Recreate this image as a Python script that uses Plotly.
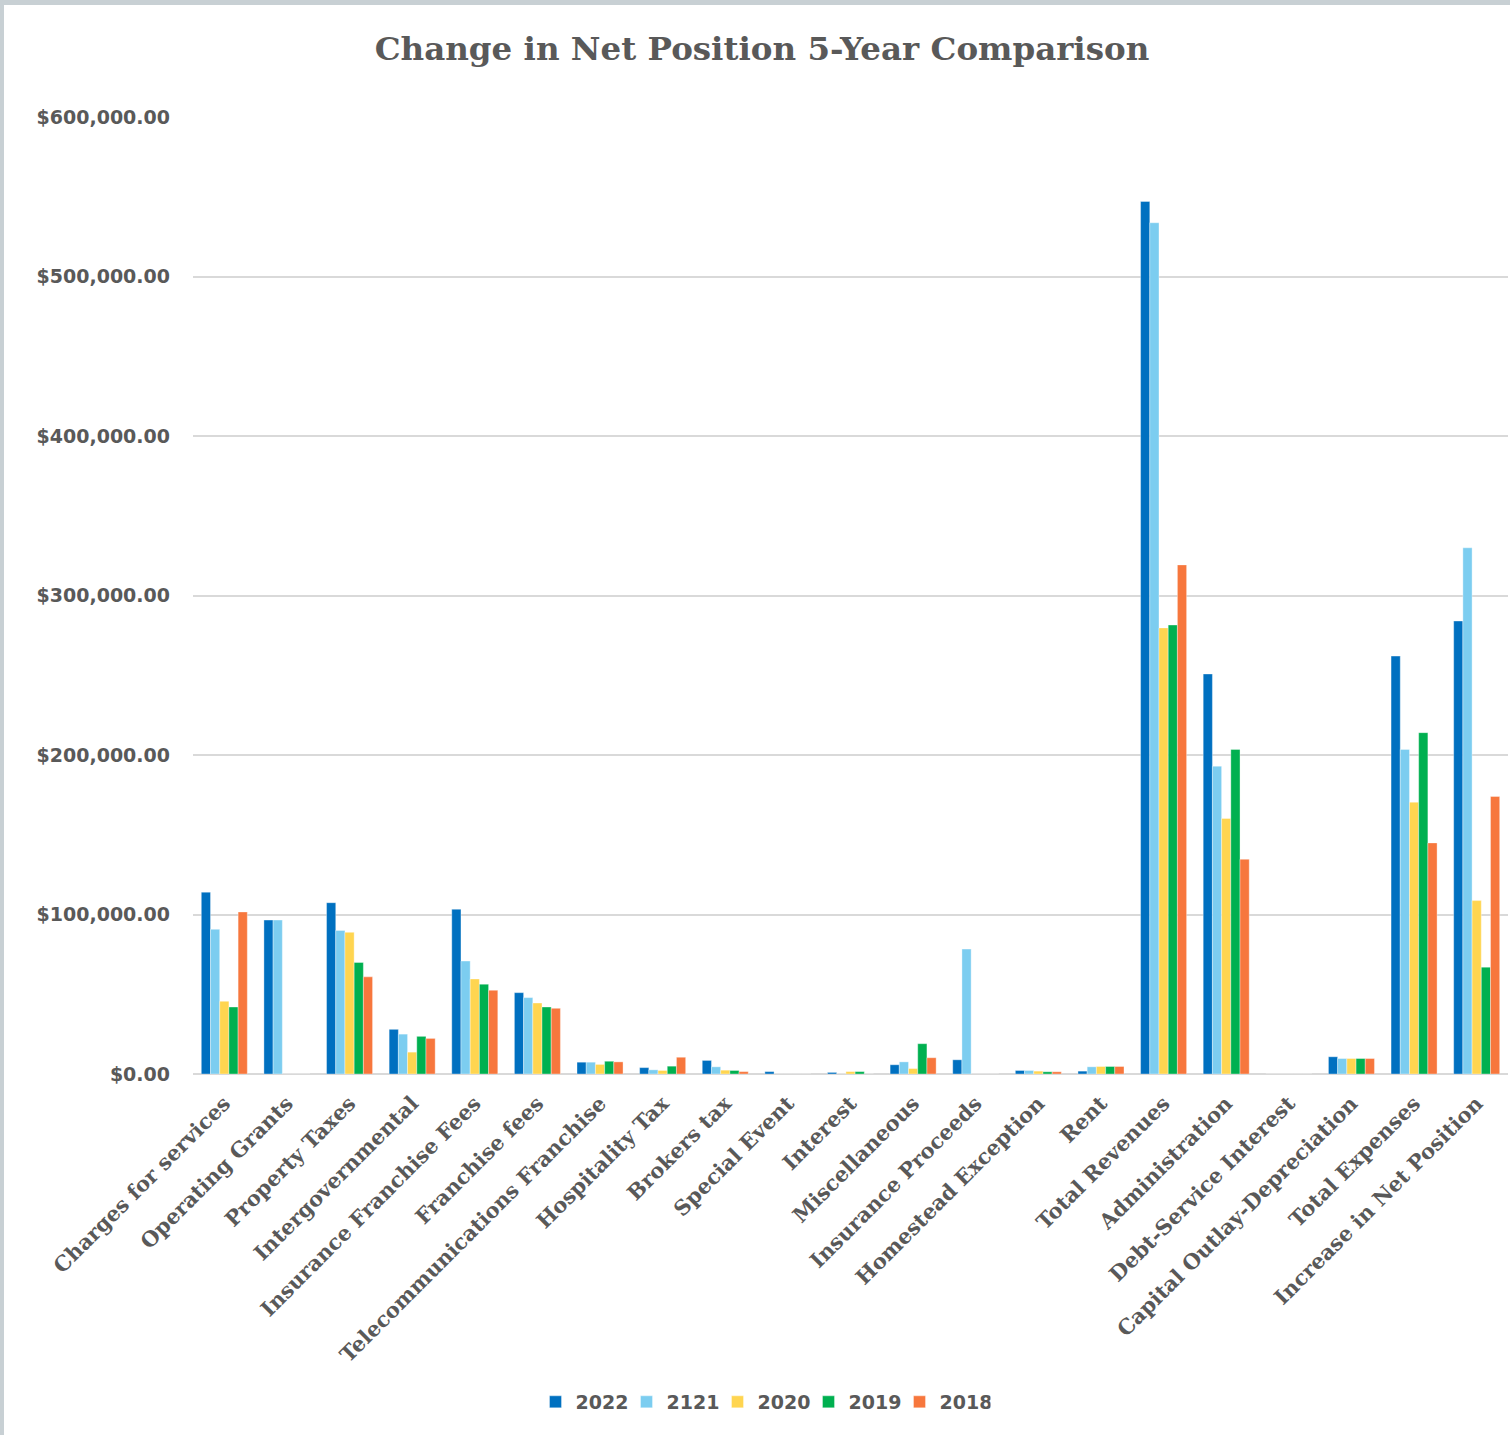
import plotly.graph_objects as go

categories = [
    "Charges for services", "Operating Grants", "Property Taxes", "Intergovernmental",
    "Insurance Franchise Fees", "Franchise fees", "Telecommunications Franchise",
    "Hospitality Tax", "Brokers tax", "Special Event", "Interest", "Miscellaneous",
    "Insurance Proceeds", "Homestead Exception", "Rent", "Total Revenues",
    "Administration", "Debt-Service Interest", "Capital Outlay-Depreciation",
    "Total Expenses", "Increase in Net Position",
]

y2022 = [114000, 96500, 107400, 28000, 103300, 51000, 7400, 4000, 8500, 1500, 1000, 5800,
         8900, 2200, 1800, 547000, 250800, 0, 10800, 262000, 284000]
y2121 = [90700, 96500, 90000, 25000, 70800, 47900, 7400, 2600, 4500, 0, 0, 7600,
         78300, 2200, 4500, 533700, 193000, 0, 9700, 203500, 329900]
y2020 = [45600, 0, 88800, 13700, 59600, 44500, 6000, 2200, 2400, 0, 1500, 3400,
         0, 1800, 4700, 279700, 160200, 0, 9700, 170400, 108700]
y2019 = [42000, 0, 69900, 23600, 56300, 42000, 8000, 4900, 2200, 0, 1500, 19000,
         0, 1400, 4700, 281500, 203500, 0, 9700, 214000, 67000]
y2018 = [101600, 0, 60900, 22300, 52500, 41200, 7600, 10500, 1500, 0, 0, 10200,
         0, 1400, 4700, 319200, 134600, 0, 9700, 144900, 174000]

series_names = ["2022", "2121", "2020", "2019", "2018"]
series_values = [y2022, y2121, y2020, y2019, y2018]
colors = ["#0070C0", "#7CCDF0", "#FFD550", "#00B050", "#F7773D"]

tick_vals = [0, 100000, 200000, 300000, 400000, 500000, 600000]
tick_text = ["$0.00", "$100,000.00", "$200,000.00", "$300,000.00", "$400,000.00",
             "$500,000.00", "$600,000.00"]

W, H = 1510, 1435
ML, MR, MT, MB = 193, 2, 117, 361
PW, PH = W - ML - MR, H - MT - MB

fig = go.Figure()
for name, vals, col in zip(series_names, series_values, colors):
    fig.add_trace(go.Bar(
        x=categories, y=vals, name=name,
        marker=dict(color=col, line=dict(color="rgba(255,255,255,0.45)", width=0.8)),
    ))

grey = "#595959"
fig.update_layout(
    width=W, height=H,
    margin=dict(l=ML, r=MR, t=MT, b=MB, autoexpand=False),
    paper_bgcolor="white", plot_bgcolor="white",
    barmode="group", bargap=0.265, bargroupgap=0,
    title=dict(
        text="Change in Net Position 5-Year Comparison",
        font=dict(family="DejaVu Serif", size=32.5, color=grey, weight="bold"),
        x=(762) / W, xanchor="center", xref="container",
        y=1 - 49 / H, yanchor="middle", yref="container",
    ),
    legend=dict(
        orientation="h", x=(763 - ML) / PW, xanchor="center",
        y=-(1402 - (H - MB)) / PH, yanchor="middle",
        font=dict(family="DejaVu Sans", size=19, color=grey, weight="bold"),
        itemwidth=30, traceorder="normal",
        entrywidth=46, entrywidthmode="pixels",
    ),
    xaxis=dict(
        type="category", tickangle=-45, showgrid=False, showline=False,
        ticks="", ticklabelstandoff=12,
        tickfont=dict(family="DejaVu Serif", size=21, color=grey, weight="bold"),
    ),
    yaxis=dict(
        range=[0, 600000], tickvals=tick_vals, ticktext=tick_text,
        showgrid=True, gridcolor="#D9D9D9", gridwidth=1.5,
        zeroline=True, zerolinecolor="#D9D9D9", zerolinewidth=2,
        showline=False, ticks="", ticklabelstandoff=22,
        tickfont=dict(family="DejaVu Sans", size=19, color=grey, weight="bold"),
    ),
    shapes=[
        dict(type="rect", xref="paper", yref="paper",
             x0=-ML / PW, x1=(-ML + 4) / PW, y0=-MB / PH, y1=1 + MT / PH,
             fillcolor="#C8D0D4", line=dict(width=0), layer="above"),
        dict(type="rect", xref="paper", yref="paper",
             x0=-ML / PW, x1=1 + MR / PW, y0=1 + (MT - 5) / PH, y1=1 + MT / PH,
             fillcolor="#C8D0D4", line=dict(width=0), layer="above"),
    ],
)

fig.write_html("out.html", config={"displayModeBar": False},
               post_script="document.body.style.margin='0';document.body.style.overflow='hidden';")
